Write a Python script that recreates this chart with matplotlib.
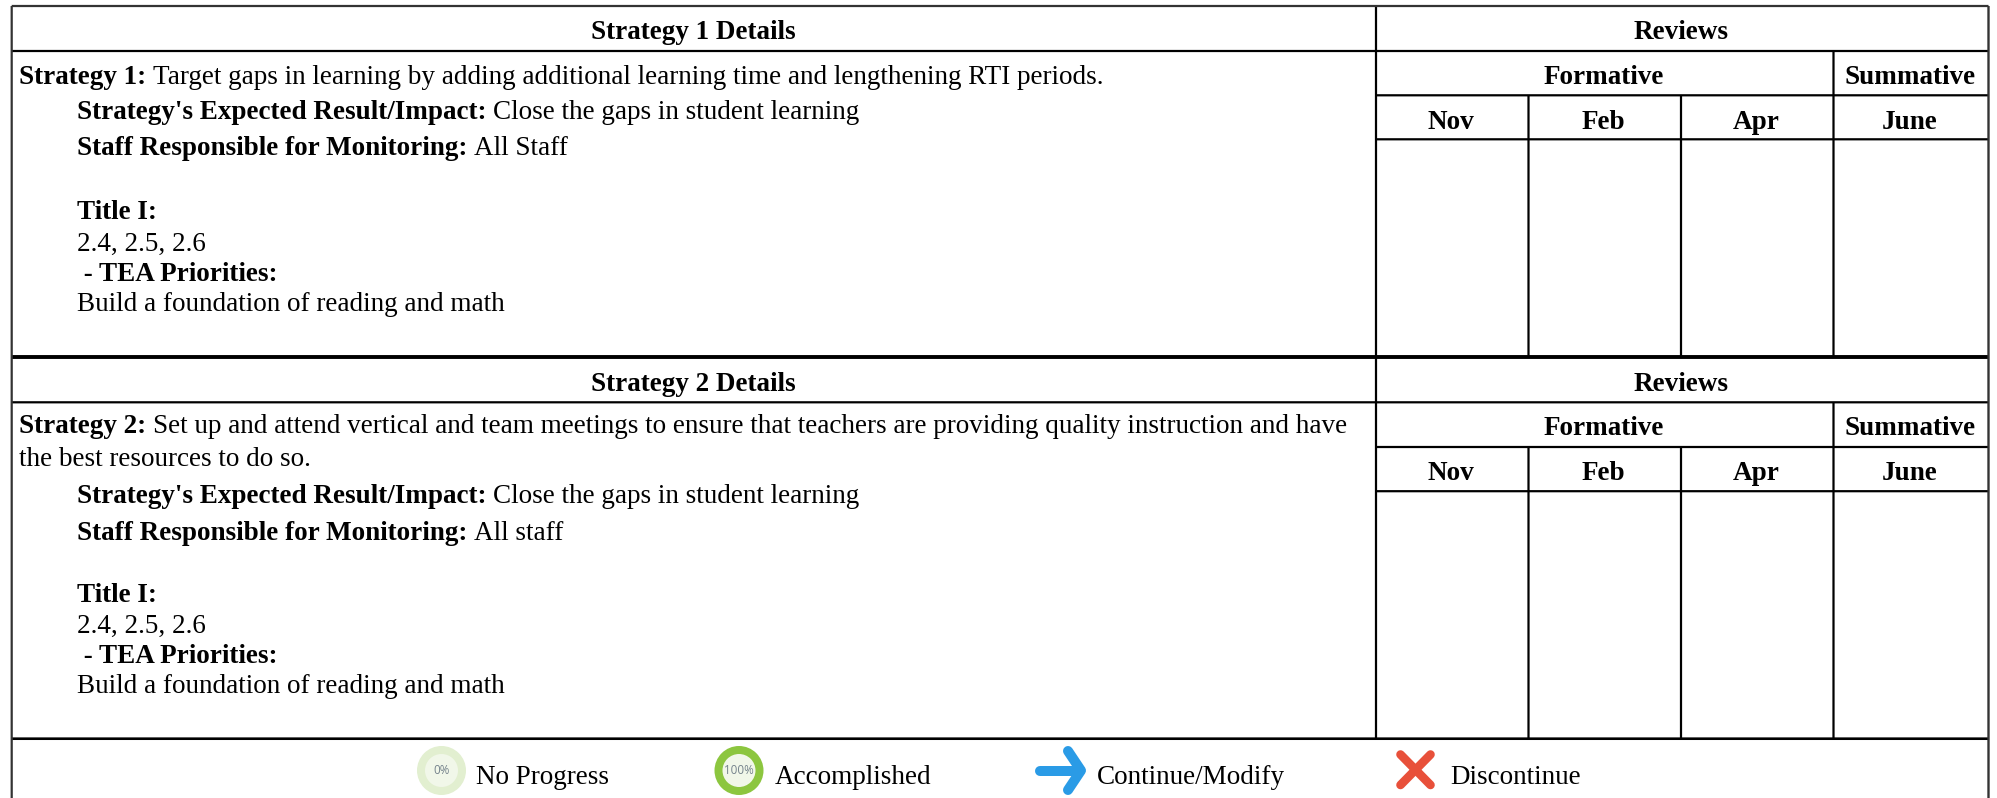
import matplotlib
matplotlib.use("Agg")
import matplotlib.pyplot as plt
from matplotlib.patches import Circle

plt.rcParams['font.family'] = ['Liberation Serif', 'DejaVu Serif']

W, H = 1997, 798
FS = 19.5

# ---- content ----
header_left = ["Strategy 1 Details", "Strategy 2 Details"]
header_right = "Reviews"
group_labels = ["Formative", "Summative"]
month_labels = ["Nov", "Feb", "Apr", "June"]
legend_labels = ["No Progress", "Accomplished", "Continue/Modify", "Discontinue"]
icon_labels = ["0%", "100%"]

# each row: indent, baseline, [(text, bold), ...]
strategy1_rows = [
    (19, 84, [("Strategy 1:", True), ("Target gaps in learning by adding additional learning time and lengthening RTI periods.", False)]),
    (77, 119, [("Strategy's Expected Result/Impact:", True), ("Close the gaps in student learning", False)]),
    (77, 155, [("Staff Responsible for Monitoring:", True), ("All Staff", False)]),
    (77, 219, [("Title I:", True)]),
    (77, 251, [("2.4, 2.5, 2.6", False)]),
    (77, 281, [(" - TEA Priorities:", True)]),
    (77, 311, [("Build a foundation of reading and math", False)]),
]
strategy2_rows = [
    (19, 433, [("Strategy 2:", True), ("Set up and attend vertical and team meetings to ensure that teachers are providing quality instruction and have", False)]),
    (19, 466, [("the best resources to do so.", False)]),
    (77, 503, [("Strategy's Expected Result/Impact:", True), ("Close the gaps in student learning", False)]),
    (77, 540, [("Staff Responsible for Monitoring:", True), ("All staff", False)]),
    (77, 602, [("Title I:", True)]),
    (77, 633, [("2.4, 2.5, 2.6", False)]),
    (77, 663, [(" - TEA Priorities:", True)]),
    (77, 693, [("Build a foundation of reading and math", False)]),
]

# ---- layout (pixels) ----
X_L, X_SPLIT, X_R = 11.7, 1376, 1988.5
X_COLS = [1376, 1528.5, 1681, 1833.5, 1988.5]
BLOCK1 = (6, 51, 95.3, 139.3, 357)
BLOCK2 = (357, 402.3, 447, 491.2, 738.7)
LW = 1.6
EDGE = "#333333"

fig = plt.figure(figsize=(W / 100, H / 100), dpi=100, facecolor="white")
ax = fig.add_axes([0, 0, 1, 1])
ax.set_xlim(0, W)
ax.set_ylim(H, 0)
ax.axis("off")


def hline(y, x0=X_L, x1=X_R, lw=LW, color="black"):
    ax.plot([x0, x1], [y, y], color=color, lw=lw, solid_capstyle="butt", snap=False)


def vline(x, y0, y1, lw=LW, color="black"):
    ax.plot([x, x], [y0, y1], color=color, lw=lw, solid_capstyle="butt", snap=False)


def ctext(x, y, s, bold=True):
    ax.text(x, y, s, ha="center", va="baseline", fontsize=FS,
            fontweight="bold" if bold else "normal", color="black")


def draw_rows(rows):
    r = fig.canvas.get_renderer()
    for x0, y, parts in rows:
        x = x0
        for s, bold in parts:
            t = ax.text(x, y, s, ha="left", va="baseline", fontsize=FS,
                        fontweight="bold" if bold else "normal", color="black")
            x = t.get_window_extent(r).x1 + 7.0


def draw_block(top, l1, l2, l3, bottom, head, rows, head_base):
    hline(l1)
    hline(l2, X_SPLIT, X_R)
    hline(l3, X_SPLIT, X_R)
    vline(X_SPLIT, top, bottom)
    vline(X_COLS[3], l1, bottom)
    for x in X_COLS[1:3]:
        vline(x, l2, bottom)
    ctext((X_L + X_SPLIT) / 2 - 0.5, head_base, head)
    ctext((X_SPLIT + X_R) / 2 - 1.5, head_base, header_right)
    ctext((X_COLS[0] + X_COLS[3]) / 2 - 1, l1 + 33, group_labels[0])
    ctext((X_COLS[3] + X_COLS[4]) / 2 - 1, l1 + 33, group_labels[1])
    for i, m in enumerate(month_labels):
        ctext((X_COLS[i] + X_COLS[i + 1]) / 2 - 1, l2 + 33.5, m)
    draw_rows(rows)


draw_block(*BLOCK1, header_left[0], strategy1_rows, 39)
draw_block(*BLOCK2, header_left[1], strategy2_rows, 391)
hline(BLOCK1[0], color=EDGE)
hline(BLOCK1[4], lw=2.8)
hline(BLOCK2[4], lw=1.9)
vline(X_L, BLOCK1[0], H, color=EDGE)
vline(X_R, BLOCK1[0], H, lw=1.7, color=EDGE)

# ---- legend ----
LY = 770.5
ax.add_patch(Circle((441.5, LY), 24.5, fc="#E2EFD0", ec="none"))
ax.add_patch(Circle((441.5, LY), 16.5, fc="#F1F7E9", ec="none"))
ax.text(441.5, LY, icon_labels[0], ha="center", va="center", fontsize=8.4,
        family="Open Sans", color="#75838C")
ax.add_patch(Circle((739, LY), 24.5, fc="#8CC63F", ec="none"))
ax.add_patch(Circle((739, LY), 16.5, fc="#F1F7E9", ec="none"))
ax.text(739, LY, icon_labels[1], ha="center", va="center", fontsize=8.4,
        family="Open Sans", color="#75838C")

ARROW = "#2A9BE6"
ax.plot([1040, 1080], [LY, LY], color=ARROW, lw=7.2, solid_capstyle="round")
ax.plot([1068, 1081, 1068], [751, LY, 790], color=ARROW, lw=7.2,
        solid_capstyle="round", solid_joinstyle="round")
CROSS = "#E8503A"
ax.plot([1400.5, 1430.5], [754.5, 785], color=CROSS, lw=6.2, solid_capstyle="round")
ax.plot([1400.5, 1430.5], [785, 754.5], color=CROSS, lw=6.2, solid_capstyle="round")

for x, s in zip([476, 775, 1097, 1450], legend_labels):
    ax.text(x, 784, s, ha="left", va="baseline", fontsize=FS, color="black")

fig.savefig("out.png", dpi=100, facecolor="white")
